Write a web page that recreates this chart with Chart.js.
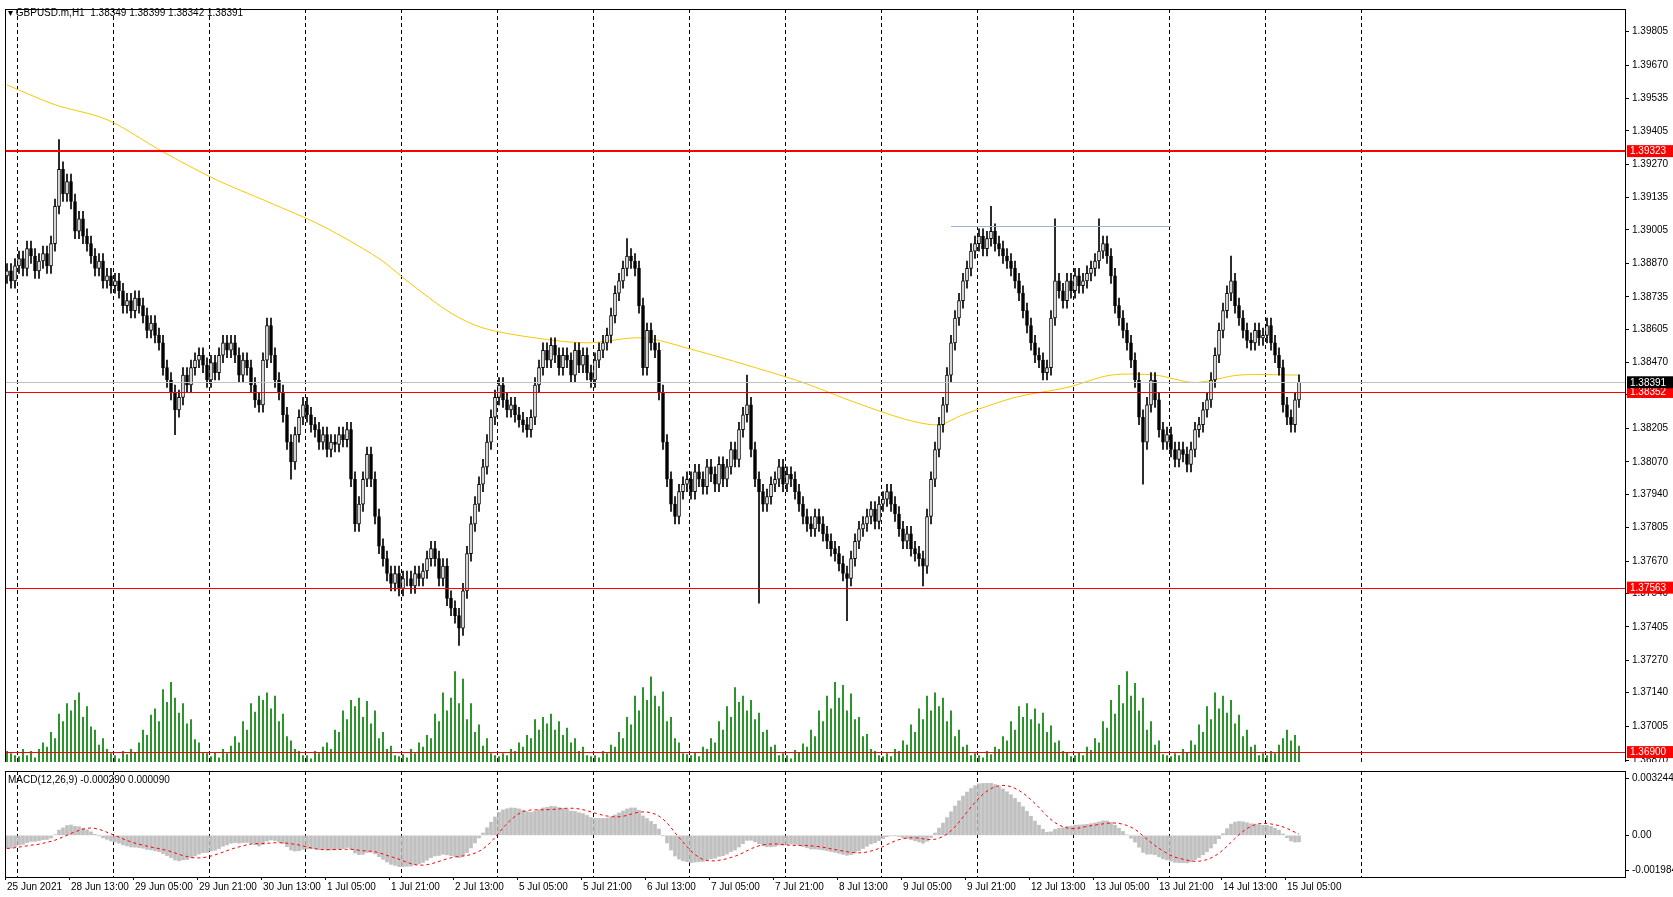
<!DOCTYPE html>
<html><head><meta charset="utf-8">
<script src="https://cdn.jsdelivr.net/npm/chart.js@4"></script>
<style>html,body{margin:0;padding:0;background:#fff;overflow:hidden}#a{position:absolute;left:0;top:0;width:1673px;height:771px}#b{position:absolute;left:0;top:762px;width:1673px;height:135px;background:#fff}</style>
</head><body>
<div id="a"><canvas id="c1"></canvas></div>
<div id="b"><canvas id="c2"></canvas></div>
<script>
const closes=[1.3884,1.3880,1.3886,1.3889,1.3885,1.3893,1.3890,1.3884,1.3888,1.3891,
1.3886,1.3895,1.3910,1.3925,1.3915,1.3920,1.3912,1.3900,1.3905,1.3898,
1.3895,1.3890,1.3885,1.3888,1.3880,1.3882,1.3878,1.3880,1.3876,1.3870,
1.3872,1.3868,1.3873,1.3870,1.3866,1.3860,1.3863,1.3858,1.3855,1.3845,
1.3840,1.3835,1.3828,1.3833,1.3842,1.3838,1.3845,1.3848,1.3850,1.3846,
1.3840,1.3847,1.3843,1.3850,1.3855,1.3852,1.3855,1.3850,1.3842,1.3848,
1.3845,1.3838,1.3832,1.3830,1.3848,1.3862,1.3850,1.3840,1.3835,1.3826,
1.3815,1.3807,1.3818,1.3825,1.3830,1.3826,1.3822,1.3820,1.3815,1.3818,
1.3812,1.3815,1.3814,1.3818,1.3816,1.3820,1.3800,1.3782,1.3790,1.3800,
1.3810,1.3800,1.3785,1.3773,1.3768,1.3762,1.3758,1.3762,1.3756,1.3760,
1.3760,1.3757,1.3762,1.3760,1.3763,1.3768,1.3772,1.3768,1.3760,1.3765,
1.3752,1.3748,1.3745,1.3740,1.3755,1.3770,1.3782,1.3790,1.3798,1.3805,
1.3815,1.3825,1.3833,1.3838,1.3832,1.3828,1.3830,1.3826,1.3824,1.3822,
1.3820,1.3825,1.3838,1.3845,1.3852,1.3848,1.3854,1.3850,1.3845,1.3850,
1.3848,1.3842,1.3852,1.3846,1.3850,1.3843,1.3840,1.3848,1.3852,1.3855,
1.3858,1.3866,1.3875,1.3880,1.3885,1.3890,1.3888,1.3885,1.3870,1.3845,
1.3860,1.3855,1.3852,1.3835,1.3815,1.3800,1.3790,1.3785,1.3795,1.3798,
1.3800,1.3795,1.3803,1.3800,1.3797,1.3805,1.3802,1.3798,1.3806,1.3800,
1.3805,1.3812,1.3808,1.3820,1.3826,1.3830,1.3812,1.3800,1.3795,1.3790,
1.3793,1.3798,1.3800,1.3805,1.3798,1.3802,1.3800,1.3795,1.3790,1.3785,
1.3782,1.3780,1.3785,1.3782,1.3778,1.3775,1.3772,1.3770,1.3766,1.3762,
1.3760,1.3768,1.3775,1.3780,1.3782,1.3785,1.3788,1.3783,1.3790,1.3792,
1.3795,1.3790,1.3786,1.3780,1.3775,1.3778,1.3772,1.3770,1.3768,1.3765,
1.3785,1.3800,1.3812,1.3822,1.3830,1.3842,1.3855,1.3865,1.3872,1.3880,
1.3885,1.3892,1.3895,1.3898,1.3893,1.3897,1.3900,1.3895,1.3893,1.3890,
1.3888,1.3885,1.3880,1.3875,1.3868,1.3862,1.3855,1.3850,1.3848,1.3843,
1.3845,1.3865,1.3880,1.3876,1.3872,1.3880,1.3876,1.3882,1.3878,1.3880,
1.3883,1.3885,1.3888,1.3892,1.3895,1.3890,1.3882,1.3870,1.3865,1.3860,
1.3855,1.3848,1.3840,1.3825,1.3815,1.3830,1.3840,1.3832,1.3820,1.3815,
1.3818,1.3812,1.3808,1.3812,1.3810,1.3806,1.3812,1.3820,1.3822,1.3828,
1.3832,1.3840,1.3850,1.3860,1.3868,1.3875,1.3880,1.3870,1.3865,1.3860,
1.3856,1.3855,1.3860,1.3857,1.3858,1.3862,1.3855,1.3850,1.3845,1.3830,
1.3825,1.3822,1.3832,1.38391];
const highOverrides={13:1.3937,155:1.3897,185:1.3842,246:1.3910,262:1.3905,273:1.3905,306:1.3890};
const lowOverrides={113:1.3733,188:1.3750,210:1.3743,229:1.3757,284:1.3798,42:1.3818,71:1.3800};
const volumes=[10,8,6,
5,12,6,10,4,12,18,14,28,22,45,38,55,48,58,65,42,52,33,30,16,22,12,8,
6,3,10,7,12,9,18,30,25,44,50,38,68,56,75,60,46,55,36,40,21,18,9,8,
5,9,4,12,8,15,24,18,38,30,55,47,62,58,65,50,62,38,45,24,20,12,10,6,
6,3,10,8,14,18,12,30,28,48,40,58,52,60,42,57,36,48,22,28,12,15,6,5,
7,4,12,8,18,14,25,22,45,38,65,48,60,85,55,78,40,55,28,35,15,22,8,6,
5,8,6,12,10,18,14,25,22,40,30,42,36,45,30,38,25,32,18,22,10,14,6,5,
6,4,10,8,16,14,28,22,42,35,62,48,70,58,80,62,52,66,38,42,22,18,8,7,
6,9,5,14,12,22,18,38,30,52,42,70,56,62,48,58,40,46,28,30,14,16,6,8,
6,3,11,9,17,14,30,24,48,38,62,50,75,60,72,48,64,40,42,24,26,12,10,6,
5,8,5,12,10,20,16,35,28,50,40,62,48,65,52,60,38,48,24,30,14,16,6,8,
6,4,10,7,14,12,24,20,38,30,52,42,55,40,50,36,46,28,34,18,20,10,9,5,
6,9,6,14,11,22,18,38,32,58,45,72,55,85,62,74,48,60,30,38,16,20,7,6,
5,8,6,12,9,20,16,35,28,52,40,65,50,62,46,58,36,44,24,30,14,16,6,8,
6,10,8,16,22,30,20,25,15];
const maIdx=[0,12,25,39,52,65,79,93,100,111,119,132,145,159,172,185,199,212,225,233,239,252,265,276,287,297,308,323];
const maVals=[1.3959,1.3951,1.3945,1.3932,1.3921,1.3912,1.3902,1.3889,1.3880,1.3867,1.3861,1.3857,1.3855,1.3857,1.3852,1.3846,1.3839,1.3831,1.3824,1.3822,1.3826,1.3833,1.3837,1.3842,1.3842,1.3839,1.3842,1.3842];
const timeLabels=["25 Jun 2021","28 Jun 13:00","29 Jun 05:00","29 Jun 21:00","30 Jun 13:00","1 Jul 05:00","1 Jul 21:00","2 Jul 13:00","5 Jul 05:00","5 Jul 21:00","6 Jul 13:00","7 Jul 05:00","7 Jul 21:00","8 Jul 13:00","9 Jul 05:00","9 Jul 21:00","12 Jul 13:00","13 Jul 05:00","13 Jul 21:00","14 Jul 13:00","15 Jul 05:00"];
const priceTicks=[1.39805,1.39670,1.39535,1.39405,1.39270,1.39135,1.39005,1.38870,1.38735,1.38605,1.38470,1.38340,1.38205,1.38070,1.37940,1.37805,1.37670,1.37540,1.37405,1.37270,1.37140,1.37005];
const bottomTick=1.36870;
const hLines=[{v:1.39323,w:2},{v:1.38352,w:1},{v:1.37563,w:1},{v:1.36900,w:1}];
const bidLine=1.38391;
const macdTicks=[0.003244,0,-0.001984];

const NB=405, FONT='10px "Liberation Sans", Arial';
const labels=Array.from({length:NB},(_,i)=>String(i));
const opens=closes.map((c,i)=>i?closes[i-1]:1.3882);
const highs=closes.map((c,i)=>highOverrides[i]??Math.max(c,opens[i])+0.0003);
const lows=closes.map((c,i)=>lowOverrides[i]??Math.min(c,opens[i])-0.0003);
const maData=new Array(NB).fill(null);maIdx.forEach((b,k)=>maData[b]=maVals[k]);
let e12=closes[0],e26=closes[0]+0.0008;const macd=[],sig=[];
closes.forEach((c,i)=>{e12+=(c-e12)*2/13;e26+=(c-e26)*2/27;macd.push(e12-e26);
 const s=macd.slice(Math.max(0,i-8));sig.push(s.reduce((a,b)=>a+b,0)/s.length);});

const fixW={afterFit(s){s.width=48;}};
function sepPlugin(id){return{id,beforeDatasetsDraw(ch){const x=ch.scales.x,a=ch.chartArea,g=ch.ctx;g.save();g.strokeStyle='#000';g.lineWidth=1;g.setLineDash([4,3]);
 for(let k=0;k<15;k++){const px=Math.round(x.getPixelForValue(3+24*k)-2)+0.5;g.beginPath();g.moveTo(px,a.top);g.lineTo(px,a.bottom);g.stroke();}g.restore();}};}
const borderPlugin={id:'bd',afterDraw(ch){const a=ch.chartArea,g=ch.ctx;g.save();g.strokeStyle='#000';g.lineWidth=1;g.strokeRect(Math.round(a.left)+0.5,Math.round(a.top)+0.5,Math.round(a.right-a.left),Math.round(a.bottom-a.top));g.restore();}};
const overlay={id:'ov',afterDatasetsDraw(ch){const y=ch.scales.y,a=ch.chartArea,g=ch.ctx;g.save();
 let py=Math.round(y.getPixelForValue(bidLine))+0.5;g.strokeStyle='#c0c0c0';g.lineWidth=1;g.beginPath();g.moveTo(a.left,py);g.lineTo(a.right,py);g.stroke();
 g.strokeStyle='#ff0000';hLines.forEach(h=>{const p=Math.round(y.getPixelForValue(h.v))+(h.w%2?0.5:0);g.lineWidth=h.w;g.beginPath();g.moveTo(a.left,p);g.lineTo(a.right,p);g.stroke();});
 const x=ch.scales.x;g.strokeStyle='#9db4d0';g.lineWidth=1;py=Math.round(y.getPixelForValue(1.3902))+0.5;g.beginPath();g.moveTo(x.getPixelForValue(236),py);g.lineTo(x.getPixelForValue(291),py);g.stroke();
 g.restore();},
 afterDraw(ch){const y=ch.scales.y,a=ch.chartArea,g=ch.ctx;g.save();g.font=FONT;g.textBaseline='middle';
 let p=y.getPixelForValue(bottomTick);g.fillStyle='#000';g.fillRect(a.right,Math.round(p),4,1);g.fillText(bottomTick.toFixed(5),a.right+7,p+1);
 const box=(v,bg)=>{const p=y.getPixelForValue(v);g.fillStyle=bg;g.fillRect(a.right+2,p-6,46,12);g.fillStyle='#fff';g.fillText(v.toFixed(5),a.right+5,p+0.5);};
 hLines.forEach(h=>box(h.v,'#ff0000'));box(bidLine,'#000');
 g.fillStyle='#000';g.textBaseline='alphabetic';g.fillText('\u25BE GBPUSD.m,H1  1.38349 1.38399 1.38342 1.38391',8,16);g.restore();}};
const xAxis={type:'category',display:false,offset:true,grid:{display:false}};

new Chart(document.getElementById('c1'),{type:'bar',data:{labels,datasets:[
 {type:'bar',data:closes.map((c,i)=>[opens[i],c]),backgroundColor:closes.map((c,i)=>c>=opens[i]?'#fff':'#000'),borderColor:'#000',borderWidth:1,borderSkipped:false,barThickness:3,grouped:false,order:0},
 {type:'bar',data:closes.map((c,i)=>[lows[i],highs[i]]),backgroundColor:'#000',barThickness:1,grouped:false,order:1},
 {type:'line',data:maData,spanGaps:true,borderColor:'#f5c800',borderWidth:1,pointRadius:0,tension:0.3,order:2},
 {type:'bar',yAxisID:'yv',data:volumes,backgroundColor:'#008000',barThickness:1,grouped:false,order:3}]},
 options:{animation:false,responsive:true,maintainAspectRatio:false,events:[],layout:{padding:{left:5,top:5,bottom:2,right:0}},
 plugins:{legend:{display:false},tooltip:{enabled:false}},
 scales:{x:xAxis,
  y:{position:'right',min:1.36860,max:1.39896,afterBuildTicks(s){s.ticks=priceTicks.map(v=>({value:v}));},...fixW,
   ticks:{font:{family:'"Liberation Sans", Arial',size:10},color:'#000',padding:3,callback:v=>v.toFixed(5)},grid:{drawOnChartArea:false,tickLength:4,color:'#000'},border:{color:'#000'}},
  yv:{display:false,min:0,max:708}}},
 plugins:[sepPlugin('s1'),overlay,borderPlugin]});

const macdPlug={id:'mp',afterDraw(ch){const g=ch.ctx,x=ch.scales.x,a=ch.chartArea;g.save();g.font=FONT;g.fillStyle='#000';
 g.fillText('MACD(12,26,9) -0.000290 0.000090',8,a.top+12);
 g.textBaseline='top';timeLabels.forEach((t,k)=>{const px=x.getPixelForValue(16*k)-2;g.fillRect(Math.round(px),a.bottom,1,3);g.fillText(t,px+2,a.bottom+5);});g.restore();}};
new Chart(document.getElementById('c2'),{type:'bar',data:{labels,datasets:[
 {type:'line',data:sig,borderColor:'#ff0000',borderWidth:1,borderDash:[3,3],pointRadius:0,order:0},
 {type:'bar',data:macd,backgroundColor:'#c0c0c0',barThickness:3,order:1}]},
 options:{animation:false,responsive:true,maintainAspectRatio:false,events:[],layout:{padding:{left:5,top:0,bottom:20,right:0}},
 plugins:{legend:{display:false},tooltip:{enabled:false}},
 scales:{x:xAxis,y:{position:'right',min:-0.00236,max:0.003646,afterBuildTicks(s){s.ticks=macdTicks.map(v=>({value:v}));},...fixW,
  ticks:{font:{family:'"Liberation Sans", Arial',size:10},color:'#000',padding:3,callback:v=>v===0?'0.00':v.toFixed(6)},grid:{drawOnChartArea:false,tickLength:4,color:'#000'},border:{color:'#000'}}}},
 plugins:[sepPlugin('s2'),macdPlug,borderPlugin]});
</script></body></html>
